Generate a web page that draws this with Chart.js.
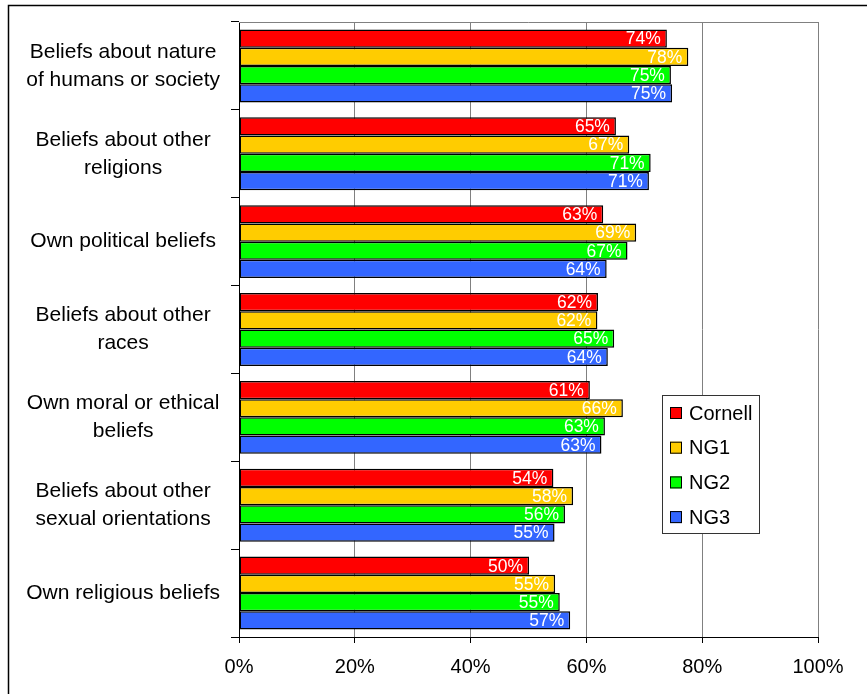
<!DOCTYPE html>
<html>
<head>
<meta charset="utf-8">
<title>Beliefs chart</title>
<script src="https://cdn.jsdelivr.net/npm/chart.js@4/dist/chart.umd.min.js"></script>
<style>
    body { margin: 0; background: #ffffff; }
    #wrap { position: relative; width: 867px; height: 694px; }
</style>
</head>
<body>
<div id="wrap"><canvas id="ctx_beliefs"></canvas></div>
<script>
var categories = [
    ['Beliefs about nature', 'of humans or society'],
    ['Beliefs about other', 'religions'],
    'Own political beliefs',
    ['Beliefs about other', 'races'],
    ['Own moral or ethical', 'beliefs'],
    ['Beliefs about other', 'sexual orientations'],
    'Own religious beliefs'
];
var seriesNames = ['Cornell', 'NG1', 'NG2', 'NG3'];
var cornell = [73.9, 65.1, 62.9, 62.0, 60.6, 54.3, 50.1];
var ng1     = [77.6, 67.4, 68.6, 61.9, 66.3, 57.7, 54.6];
var ng2     = [74.6, 71.1, 67.1, 64.8, 63.2, 56.3, 55.4];
var ng3     = [74.8, 70.8, 63.5, 63.7, 62.6, 54.5, 57.2];
var xTicks  = [0, 20, 40, 60, 80, 100];
var colors  = ['#ff0000', '#ffcc00', '#00ff00', '#3366ff'];

var FONT = 'Arial, "Liberation Sans", sans-serif';

// white % labels at the inside end of each bar
var barLabels = {
    id: 'barLabels',
    afterDatasetsDraw: function(chart) {
        var ctx = chart.ctx;
        ctx.save();
        ctx.font = '17.5px ' + FONT;
        ctx.fillStyle = '#ffffff';
        ctx.textAlign = 'right';
        ctx.textBaseline = 'middle';
        chart.data.datasets.forEach(function(ds, i) {
            chart.getDatasetMeta(i).data.forEach(function(bar, j) {
                ctx.fillText(Math.round(ds.data[j]) + '%', bar.x - 6, bar.y + 1);
            });
        });
        ctx.restore();
    }
};

// outer frame, plot top line and the boxed legend
var frame = {
    id: 'frame',
    beforeDraw: function(chart) {
        var ctx = chart.ctx;
        ctx.save();
        ctx.fillStyle = '#ffffff';
        ctx.fillRect(0, 0, chart.width, chart.height);
        ctx.strokeStyle = '#000000';
        ctx.lineWidth = 1.5;
        ctx.beginPath();
        ctx.moveTo(8.5, chart.height + 2);
        ctx.lineTo(8.5, 5.5);
        ctx.lineTo(chart.width + 2, 5.5);
        ctx.stroke();
        ctx.restore();
    },
    afterDraw: function(chart) {
        var ctx = chart.ctx;
        var a = chart.chartArea;
        ctx.save();
        ctx.strokeStyle = '#808080';
        ctx.lineWidth = 1;
        ctx.beginPath();
        ctx.moveTo(a.left, a.top + 0.5);
        ctx.lineTo(a.right + 0.5, a.top + 0.5);
        ctx.stroke();

        var lx = 662, ly = 395, lw = 97, lh = 138;
        ctx.fillStyle = '#ffffff';
        ctx.fillRect(lx, ly, lw, lh);
        ctx.strokeStyle = '#333333';
        ctx.strokeRect(lx + 0.5, ly + 0.5, lw, lh);
        ctx.font = '20px ' + FONT;
        ctx.textAlign = 'left';
        ctx.textBaseline = 'middle';
        chart.data.datasets.forEach(function(ds, i) {
            var cy = 413 + i * 34.7;
            ctx.fillStyle = ds.backgroundColor;
            ctx.fillRect(670, cy - 6, 12, 12);
            ctx.strokeStyle = '#000000';
            ctx.strokeRect(670.5, cy - 5.5, 11, 11);
            ctx.fillStyle = '#000000';
            ctx.fillText(ds.label, 689, cy + 1);
        });
        ctx.restore();
    }
};

function displayBeliefsChart() {
    var ctx = document.getElementById('ctx_beliefs');
    var allSeries = [cornell, ng1, ng2, ng3];
    var myChart = new Chart(ctx, {
        type: 'bar',
        data: {
            labels: categories,
            datasets: allSeries.map(function(values, i) {
                return {
                    label: seriesNames[i],
                    data: values,
                    backgroundColor: colors[i],
                    borderColor: '#000000',
                    borderWidth: 1.5,
                    borderSkipped: false,
                    categoryPercentage: 0.83,
                    barPercentage: 1.0
                };
            })
        },
        options: {
            indexAxis: 'y',
            responsive: true,
            maintainAspectRatio: false,
            animation: false,
            layout: { padding: { left: 0, top: 22, right: 49, bottom: 0 } },
            plugins: {
                legend: { display: false },
                tooltip: { enabled: false }
            },
            scales: {
                x: {
                    min: 0,
                    max: 100,
                    afterFit: function(scale) {
                        scale.height = 57;
                        scale.paddingLeft = 0;
                        scale.paddingRight = 0;
                    },
                    afterBuildTicks: function(scale) {
                        scale.ticks = xTicks.map(function(v) { return { value: v }; });
                    },
                    grid: {
                        color: '#808080',
                        lineWidth: 1,
                        drawTicks: true,
                        tickLength: 6,
                        tickColor: '#000000'
                    },
                    border: { color: '#000000', width: 1 },
                    ticks: {
                        color: '#000000',
                        padding: 12,
                        font: { family: FONT, size: 20 },
                        callback: function(value) { return value + '%'; }
                    }
                },
                y: {
                    afterFit: function(scale) {
                        scale.width = 239;
                        scale.paddingTop = 0;
                        scale.paddingBottom = 0;
                    },
                    grid: {
                        drawOnChartArea: false,
                        drawTicks: true,
                        tickLength: 8,
                        tickColor: '#000000'
                    },
                    border: { color: '#000000', width: 1 },
                    ticks: {
                        color: '#000000',
                        crossAlign: 'center',
                        padding: 11,
                        font: { family: FONT, size: 21, lineHeight: 1.33 }
                    }
                }
            }
        },
        plugins: [frame, barLabels]
    });
}

displayBeliefsChart();
</script>
</body>
</html>
